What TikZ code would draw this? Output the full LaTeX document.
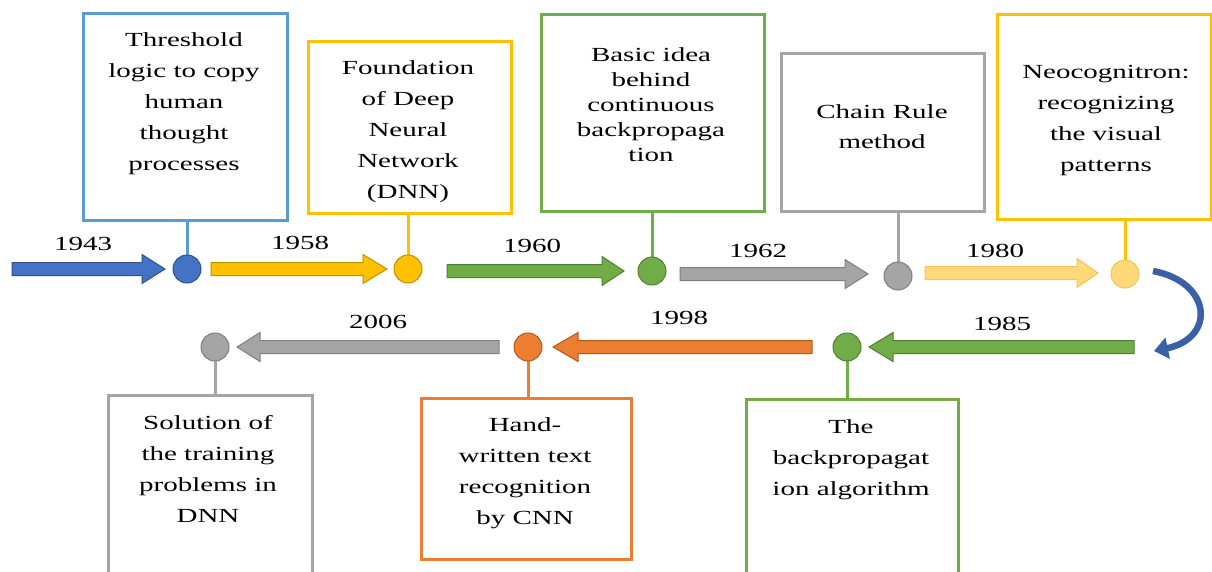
\documentclass[tikz,border=0pt]{standalone}
\usepackage{fontspec}
\setmainfont{Liberation Serif}[FakeStretch=1.45]
\usetikzlibrary{arrows.meta}
\definecolor{cblue}{HTML}{4472C4}\definecolor{cblueD}{HTML}{2F528F}
\definecolor{cboxblue}{HTML}{5B9BD5}
\definecolor{cyel}{HTML}{FFC000}\definecolor{cyelD}{HTML}{BF9000}
\definecolor{clyel}{HTML}{FFD87A}\definecolor{clyelD}{HTML}{F2C45A}
\definecolor{cgreen}{HTML}{70AD47}\definecolor{cgreenD}{HTML}{507E32}
\definecolor{cgrey}{HTML}{A5A5A5}\definecolor{cgreyD}{HTML}{7F7F7F}
\definecolor{corange}{HTML}{ED7D31}\definecolor{corangeD}{HTML}{AE5A21}
\newcommand\blockarrow[5]{% tail, head start, tip, y, style
  \filldraw[#5] ({#1},{#4-6.5}) -- ({#2},{#4-6.5}) -- ({#2},{#4-14.5}) -- ({#3},{#4})
    -- ({#2},{#4+14.5}) -- ({#2},{#4+6.5}) -- ({#1},{#4+6.5}) -- cycle;}
\begin{document}
\begin{tikzpicture}[x=1pt,y=-1pt,
  boxnode/.style={draw=#1, line width=3pt, fill=white, inner sep=0, anchor=north west},
  txt/.style={align=center, inner sep=0, anchor=north, font=\fontsize{20}{31}\selectfont},
  yr/.style={inner sep=0, font=\fontsize{20}{22}\selectfont},
  dot/.style={circle, minimum size=28pt, inner sep=0, line width=1pt, fill=#1},
  stem/.style={draw=#1, line width=3pt},
  arr/.style={fill=#1, line width=1pt}]
\useasboundingbox (0,0) rectangle (1212,571);
% boxes
\node[boxnode=cboxblue, minimum width=204pt, minimum height=207pt] (b1) at (82,12) {};
\node[boxnode=cyel, minimum width=203pt, minimum height=172pt] (b2) at (307,40) {};
\node[boxnode=cgreen, minimum width=223pt, minimum height=197pt] (b3) at (540,13) {};
\node[boxnode=cgrey, minimum width=203pt, minimum height=158pt] (b4) at (780,52) {};
\node[boxnode=cyel, minimum width=214pt, minimum height=205pt] (b5) at (996,13) {};
\node[boxnode=cgreen, minimum width=212pt, minimum height=180pt] (b6) at (745,398) {};
\node[boxnode=corange, minimum width=210pt, minimum height=161pt] (b7) at (420,397) {};
\node[boxnode=cgrey, minimum width=204pt, minimum height=180pt] (b8) at (107,394) {};
% texts
\node[txt] (t1) at (184,32.9) {Threshold\\logic to copy\\human\\thought\\processes};
\node[txt] (t2) at (408,60.9) {Foundation\\of Deep\\Neural\\Network\\(DNN)};
\node[txt, font=\fontsize{20}{25}\selectfont] (t3) at (651,47.9) {Basic idea\\behind\\continuous\\backpropaga\\tion};
\node[txt, font=\fontsize{20}{30}\selectfont] (t4) at (882,104.9) {Chain Rule\\method};
\node[txt] (t5) at (1106,64.9) {Neocognitron:\\recognizing\\the visual\\patterns};
\node[txt] (t6) at (851,419.9) {The\\backpropagat\\ion algorithm};
\node[txt] (t7) at (525,417.9) {Hand-\\written text\\recognition\\by CNN};
\node[txt] (t8) at (208,414.9) {Solution of\\the training\\problems in\\DNN};
% dots
\coordinate (c1) at (187,269);
\coordinate (c2) at (408,269);
\coordinate (c3) at (652,271);
\coordinate (c4) at (898,276);
\coordinate (c5) at (1125,274);
\coordinate (c6) at (847,347);
\coordinate (c7) at (528,347);
\coordinate (c8) at (215,347);
% stems
\draw[stem=cboxblue] (c1 |- b1.south) -- (c1);
\draw[stem=cyel] (c2 |- b2.south) -- (c2);
\draw[stem=cgreen] (c3 |- b3.south) -- (c3);
\draw[stem=cgrey] (c4 |- b4.south) -- (c4);
\draw[stem=cyel] (c5 |- b5.south) -- (c5);
\draw[stem=cgreen] (c6 |- b6.north) -- (c6);
\draw[stem=corange] (c7 |- b7.north) -- (c7);
\draw[stem=cgrey] (c8 |- b8.north) -- (c8);
\node[dot=cblue, draw=cblueD] (d1) at (c1) {};
\node[dot=cyel, draw=cyelD] (d2) at (c2) {};
\node[dot=cgreen, draw=cgreenD] (d3) at (c3) {};
\node[dot=cgrey, draw=cgreyD] (d4) at (c4) {};
\node[dot=clyel, draw=clyelD] (d5) at (c5) {};
\node[dot=cgreen, draw=cgreenD] (d6) at (c6) {};
\node[dot=corange, draw=corangeD] (d7) at (c7) {};
\node[dot=cgrey, draw=cgreyD] (d8) at (c8) {};
% block arrows
\blockarrow{12}{142}{165}{269}{arr=cblue, draw=cblueD}
\blockarrow{211}{363}{387}{269}{arr=cyel, draw=cyelD}
\blockarrow{447}{602}{624}{271}{arr=cgreen, draw=cgreenD}
\blockarrow{680}{845}{868}{274}{arr=cgrey, draw=cgreyD}
\blockarrow{925}{1077}{1098}{273}{arr=clyel, draw=clyelD}
\blockarrow{1134}{893}{869}{347}{arr=cgreen, draw=cgreenD}
\blockarrow{812}{578}{553}{347}{arr=corange, draw=corangeD}
\blockarrow{499}{260}{237}{347}{arr=cgrey, draw=cgreyD}
% curved arrow
\draw[cblue!85!black, line width=6.5pt, -{Triangle[width=21pt,length=14pt]}]
  (1153,271) .. controls (1212,282) and (1216,338) .. (1154,351);
% years
\node[yr] (y1) at (83,244) {1943};
\node[yr] (y2) at (300,243) {1958};
\node[yr] (y3) at (532,246) {1960};
\node[yr] (y4) at (758,251) {1962};
\node[yr] (y5) at (995,251) {1980};
\node[yr] (y6) at (1002,324) {1985};
\node[yr] (y7) at (679,318) {1998};
\node[yr] (y8) at (378,322) {2006};
\end{tikzpicture}
\end{document}
